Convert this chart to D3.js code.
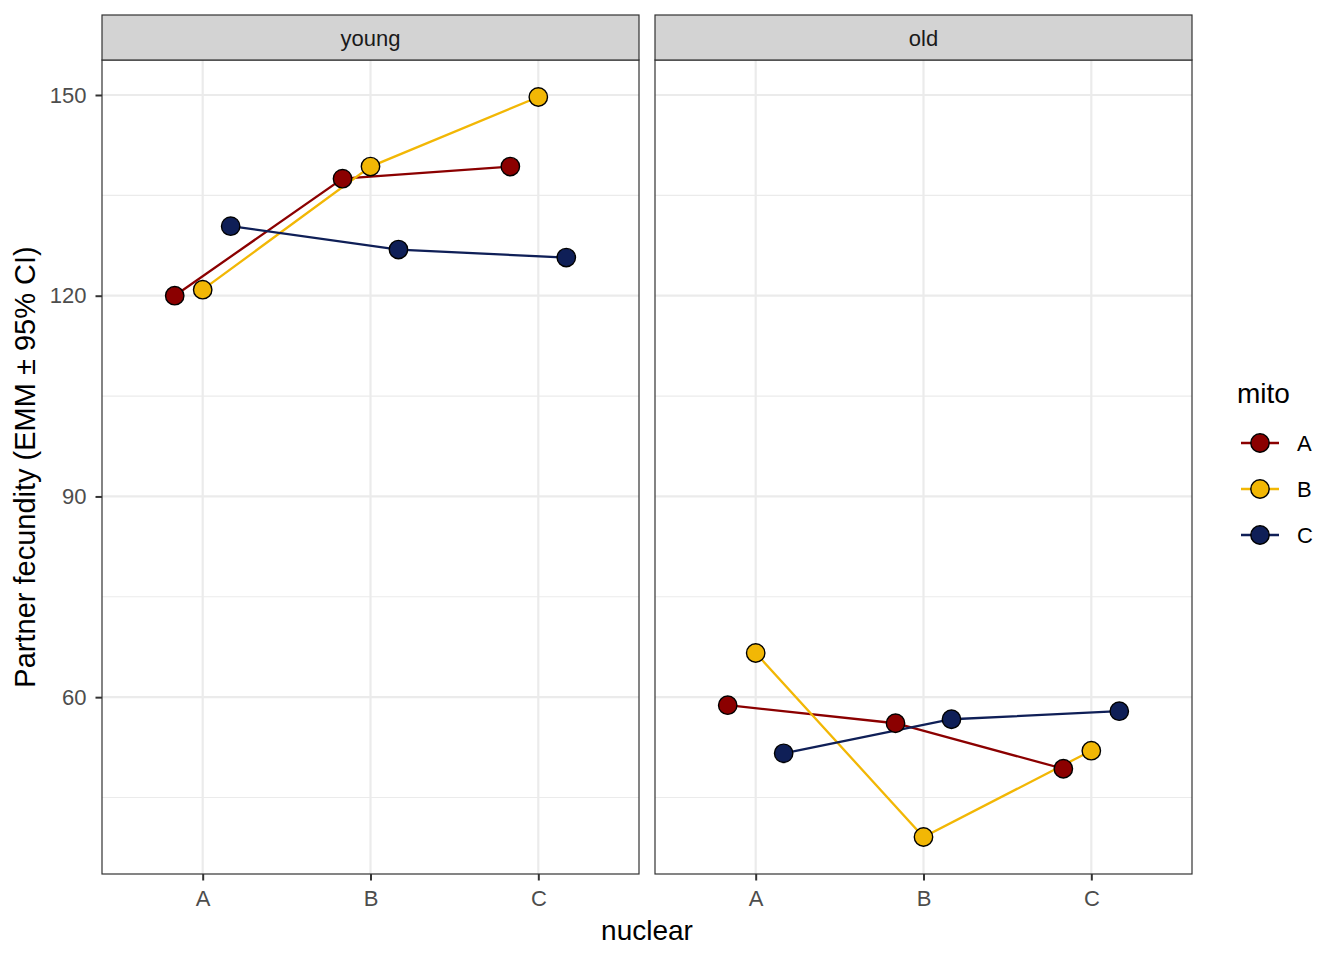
<!DOCTYPE html>
<html>
<head>
<meta charset="utf-8">
<script src="https://d3js.org/d3.v7.min.js"></script>
<style>
  body { margin: 0; background: #fff; }
  text { font-family: "Liberation Sans", Arial, sans-serif; }
</style>
</head>
<body>
<div id="my_dataviz"></div>
<script>
// categories
var ages = ["young", "old"];
var nuclear = ["A", "B", "C"];
var mito = ["A", "B", "C"];
var mitoColors = ["#8B0000", "#F2B705", "#0F1F57"];

// EMM values, one array per age x mito, in nuclear order A, B, C
var youngA = [120.0, 137.5, 139.3];
var youngB = [120.9, 139.3, 149.7];
var youngC = [130.4, 126.9, 125.7];
var oldA = [58.8, 56.1, 49.3];
var oldB = [66.6, 39.1, 52.0];
var oldC = [51.6, 56.7, 57.9];

var yTicks = [60, 90, 120, 150];
var yMinor = [45, 75, 105, 135];

var values = {
  young: [youngA, youngB, youngC],
  old: [oldA, oldB, oldC]
};

// build long table
var data = [];
ages.forEach(function(a) {
  mito.forEach(function(m, i) {
    nuclear.forEach(function(n, j) {
      data.push({age: a, mito: m, nuclear: n, value: values[a][i][j]});
    });
  });
});

var W = 1344, H = 960;
var panelTop = 60, panelBottom = 874, stripTop = 15;
var panelX = [102, 655], panelW = 537;
var ptR = 9.2;

var svg = d3.select("#my_dataviz").append("svg")
  .attr("width", W).attr("height", H);

// y scale with ggplot style 5% expansion
var ext = d3.extent(data, function(d) { return d.value; });
var pad = (ext[1] - ext[0]) * 0.05;
var y = d3.scaleLinear()
  .domain([ext[0] - pad, ext[1] + pad])
  .range([panelBottom, panelTop]);

var color = d3.scaleOrdinal().domain(mito).range(mitoColors);

ages.forEach(function(age, k) {
  var x0 = panelX[k];
  var x = d3.scaleLinear().domain([0.4, 3.6]).range([x0, x0 + panelW]);
  var xPos = function(d) {
    return x(nuclear.indexOf(d.nuclear) + 1 + (mito.indexOf(d.mito) - 1) / 6);
  };

  var g = svg.append("g");

  // grid
  g.selectAll(".minor").data(yMinor).enter().append("line")
    .attr("x1", x0).attr("x2", x0 + panelW)
    .attr("y1", function(d) { return y(d); }).attr("y2", function(d) { return y(d); })
    .style("stroke", "#EBEBEB").style("stroke-width", 1.1);
  g.selectAll(".major").data(yTicks).enter().append("line")
    .attr("x1", x0).attr("x2", x0 + panelW)
    .attr("y1", function(d) { return y(d); }).attr("y2", function(d) { return y(d); })
    .style("stroke", "#EBEBEB").style("stroke-width", 2.2);
  g.selectAll(".vmajor").data(nuclear).enter().append("line")
    .attr("x1", function(d, i) { return x(i + 1); }).attr("x2", function(d, i) { return x(i + 1); })
    .attr("y1", panelTop).attr("y2", panelBottom)
    .style("stroke", "#EBEBEB").style("stroke-width", 2.2);

  // lines
  var line = d3.line().x(xPos).y(function(d) { return y(d.value); });
  mito.forEach(function(m) {
    var sub = data.filter(function(d) { return d.age == age && d.mito == m; });
    g.append("path").datum(sub)
      .attr("d", line)
      .attr("fill", "none")
      .attr("stroke", color(m))
      .attr("stroke-width", 2.3);
  });

  // points
  g.selectAll("circle").data(data.filter(function(d) { return d.age == age; }))
    .enter().append("circle")
      .attr("cx", xPos)
      .attr("cy", function(d) { return y(d.value); })
      .attr("r", ptR)
      .style("fill", function(d) { return color(d.mito); })
      .style("stroke", "#000")
      .style("stroke-width", 1.4);

  // panel border
  g.append("rect")
    .attr("x", x0).attr("y", panelTop)
    .attr("width", panelW).attr("height", panelBottom - panelTop)
    .style("fill", "none").style("stroke", "#333").style("stroke-width", 1.2);

  // strip
  g.append("rect")
    .attr("x", x0).attr("y", stripTop)
    .attr("width", panelW).attr("height", panelTop - stripTop)
    .style("fill", "#D3D3D3").style("stroke", "#333").style("stroke-width", 1.2);
  g.append("text")
    .attr("x", x0 + panelW / 2).attr("y", 46)
    .attr("text-anchor", "middle")
    .style("font-size", "22px").style("fill", "#1A1A1A")
    .text(age);

  // x axis
  var xa = d3.axisBottom(d3.scalePoint().domain(nuclear).range([x(1), x(3)]))
    .tickSize(6.5).tickPadding(10);
  var ax = g.append("g").attr("transform", "translate(0," + panelBottom + ")").call(xa);
  ax.select(".domain").remove();
  ax.selectAll("line").style("stroke", "#333").style("stroke-width", 2);
  ax.selectAll("text").style("font-size", "22px").style("fill", "#4D4D4D")
    .style("font-family", "Liberation Sans, Arial, sans-serif");

  if (k == 0) {
    var ya = d3.axisLeft(y).tickValues(yTicks).tickSize(6.5).tickPadding(9);
    var ay = g.append("g").attr("transform", "translate(" + x0 + ",0)").call(ya);
    ay.select(".domain").remove();
    ay.selectAll("line").style("stroke", "#333").style("stroke-width", 2);
    ay.selectAll("text").style("font-size", "22px").style("fill", "#4D4D4D")
      .style("font-family", "Liberation Sans, Arial, sans-serif");
  }
});

// axis titles
svg.append("text")
  .attr("x", (panelX[0] + panelX[1] + panelW) / 2).attr("y", 940)
  .attr("text-anchor", "middle")
  .style("font-size", "28px").style("fill", "#000")
  .text("nuclear");
svg.append("text")
  .attr("transform", "translate(35," + (panelTop + panelBottom) / 2 + ") rotate(-90)")
  .attr("text-anchor", "middle")
  .style("font-size", "29px").style("fill", "#000")
  .text("Partner fecundity (EMM ± 95% CI)");

// legend
var leg = svg.append("g");
leg.append("text")
  .attr("x", 1237).attr("y", 403)
  .style("font-size", "28px").style("fill", "#000")
  .text("mito");
mito.forEach(function(m, i) {
  var ly = 443 + i * 46;
  leg.append("line")
    .attr("x1", 1241).attr("x2", 1279).attr("y1", ly).attr("y2", ly)
    .attr("stroke", color(m)).attr("stroke-width", 2.4);
  leg.append("circle")
    .attr("cx", 1260).attr("cy", ly).attr("r", ptR)
    .style("fill", color(m)).style("stroke", "#000").style("stroke-width", 1.4);
  leg.append("text")
    .attr("x", 1297).attr("y", ly + 8)
    .style("font-size", "22px").style("fill", "#000")
    .text(m);
});
</script>
</body>
</html>
